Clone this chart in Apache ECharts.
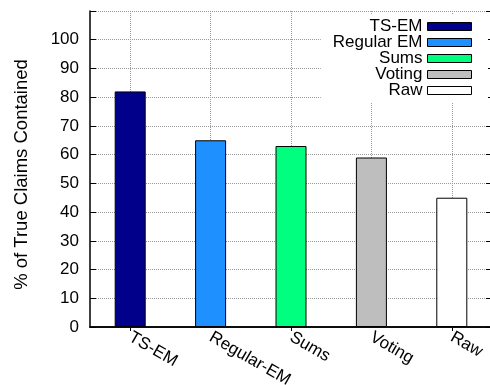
<!DOCTYPE html>
<html>
<head>
<meta charset="utf-8">
<script src="https://cdn.jsdelivr.net/npm/echarts@6/dist/echarts.min.js"></script>
<style>
  html, body { margin: 0; padding: 0; background: #fff; }
  #chart { width: 490px; height: 385px; }
</style>
</head>
<body>
<div id="chart"></div>
<script>
// Share of true claims contained, per method
const categories = ['TS-EM', 'Regular-EM', 'Sums', 'Voting', 'Raw'];
const seriesNames = ['TS-EM', 'Regular EM', 'Sums', 'Voting', 'Raw'];
const values = [82, 65, 63, 59, 45];
const colors = ['#00008b', '#1e90ff', '#00ff7f', '#bebebe', '#ffffff'];
const yTicks = [0, 10, 20, 30, 40, 50, 60, 70, 80, 90, 100];

const FONT = 'Liberation Sans, Arial, Helvetica, sans-serif';
const GRID_LINE = { color: '#999', type: [1, 1], width: 1 };

// One series per method so each gets its own legend entry; all share the same slot.
const series = seriesNames.map((name, i) => ({
  name: name,
  type: 'bar',
  barWidth: 31,
  barGap: '-100%',
  itemStyle: { color: colors[i], borderColor: '#000', borderWidth: 1 },
  data: categories.map((c, j) => (j === i ? values[i] : null))
}));

const chart = echarts.init(document.getElementById('chart'), null, { renderer: 'canvas' });
chart.setOption({
  animation: false,
  backgroundColor: '#fff',
  textStyle: { fontFamily: FONT },
  grid: { left: 90, right: -2, top: 11, bottom: 58, containLabel: false, outerBoundsMode: 'none' },
  legend: {
    data: seriesNames,
    orient: 'vertical',
    right: 2,
    top: 15,
    align: 'right',
    icon: 'rect',
    itemWidth: 44,
    itemHeight: 8,
    itemGap: -1,
    padding: [3, 16, 4, 12],
    backgroundColor: '#fff',
    textStyle: { fontFamily: FONT, fontSize: 17, color: '#000' },
    itemStyle: { borderColor: '#000', borderWidth: 1 }
  },
  xAxis: [
    {
      type: 'category',
      data: categories,
      position: 'bottom',
      axisLine: { show: true, lineStyle: { color: '#000', width: 1.5 } },
      axisTick: { show: false },
      axisLabel: {
        rotate: -30,
        margin: 9,
        fontFamily: FONT,
        fontSize: 17,
        color: '#000',
        interval: 0
      },
      splitLine: { show: true, alignWithLabel: true, lineStyle: GRID_LINE }
    },
    {
      type: 'category',
      data: categories,
      position: 'top',
      axisLine: { show: true, lineStyle: { color: '#000', width: 1.5 } },
      axisTick: { show: true, inside: true, alignWithLabel: true, length: 4, lineStyle: { color: '#000' } },
      axisLabel: { show: false },
      splitLine: { show: false }
    }
  ],
  yAxis: [
    {
      type: 'value',
      min: 0,
      max: 110,
      interval: 10,
      name: '% of True Claims Contained',
      nameLocation: 'middle',
      nameGap: 59,
      nameTextStyle: { fontFamily: FONT, fontSize: 18.5, color: '#000', padding: [0, 0, 0, -11] },
      axisLine: { show: true, lineStyle: { color: '#000', width: 1.5 } },
      axisTick: { show: true, inside: true, length: 6, lineStyle: { color: '#000' } },
      axisLabel: {
        margin: 11,
        fontFamily: FONT,
        fontSize: 17,
        color: '#000',
        formatter: v => (yTicks.indexOf(v) >= 0 ? String(v) : '')
      },
      splitLine: { show: true, lineStyle: GRID_LINE }
    },
    {
      type: 'value',
      min: 0,
      max: 110,
      interval: 10,
      position: 'right',
      axisLine: { show: true, lineStyle: { color: '#000', width: 1.5 } },
      axisTick: { show: true, inside: true, length: 6, lineStyle: { color: '#000' } },
      axisLabel: { show: false },
      splitLine: { show: false }
    }
  ],
  series: series
});
</script>
</body>
</html>
